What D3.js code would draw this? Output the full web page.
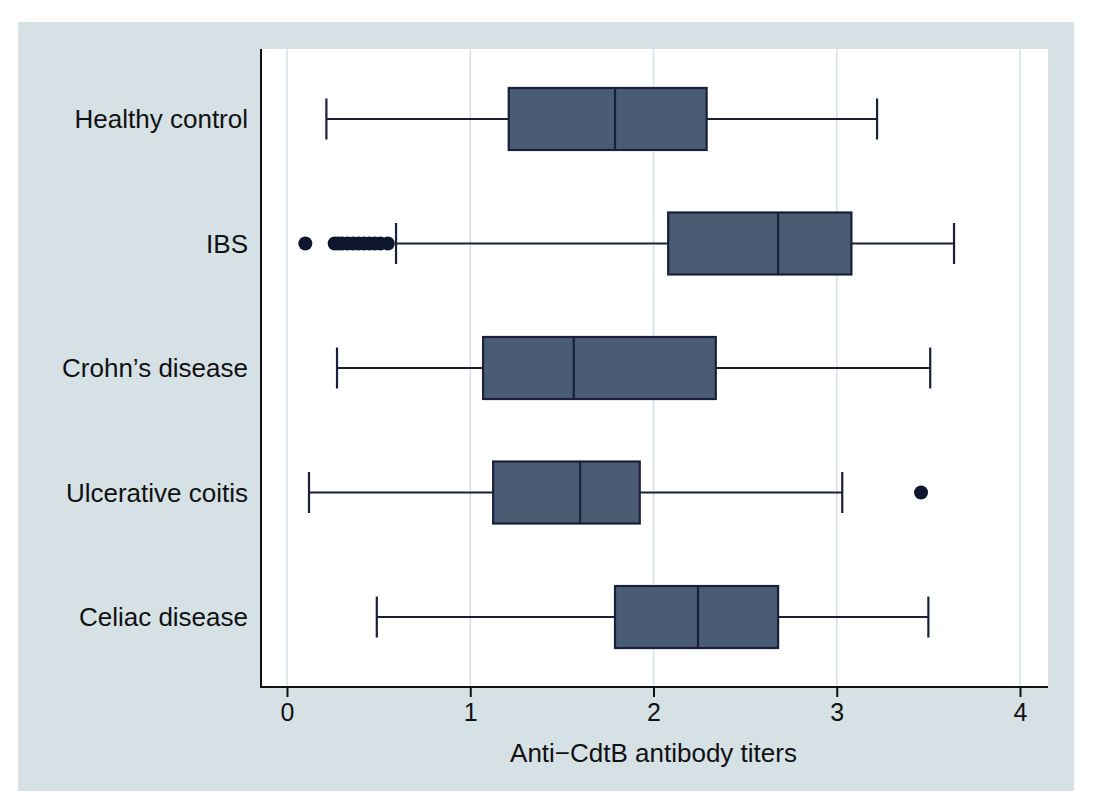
<!DOCTYPE html>
<html>
<head>
<meta charset="utf-8">
<script src="https://cdn.jsdelivr.net/npm/d3@7"></script>
<style>
  body { margin: 0; background: #fff; }
  text { font-family: "Liberation Sans", Arial, sans-serif; fill: #111; }
</style>
</head>
<body>
<div id="chart"></div>
<script>
// data
const categories = ["Healthy control", "IBS", "Crohn’s disease", "Ulcerative coitis", "Celiac disease"];
const whiskerLow = [0.215, 0.595, 0.273, 0.12, 0.49];
const q1 = [1.21, 2.08, 1.07, 1.125, 1.79];
const median = [1.79, 2.68, 1.565, 1.60, 2.243];
const q3 = [2.29, 3.08, 2.34, 1.925, 2.68];
const whiskerHigh = [3.22, 3.64, 3.51, 3.03, 3.50];
const outliers = [
  [],
  [0.10, 0.26, 0.28, 0.30, 0.33, 0.36, 0.39, 0.42, 0.45, 0.48, 0.51, 0.55],
  [],
  [3.46],
  []
];
const xTicks = [0, 1, 2, 3, 4];
const xTitle = "Anti−CdtB antibody titers";

const width = 1114;
const height = 806;
const plot = { left: 261, right: 1048, top: 49, bottom: 687 };

const boxes = categories.map((c, i) => ({
  cat: c, lo: whiskerLow[i], q1: q1[i], med: median[i], q3: q3[i], hi: whiskerHigh[i], out: outliers[i]
}));

const svg = d3.select("#chart")
  .append("svg")
  .attr("width", width)
  .attr("height", height);

// gray outer panel and white plot region
svg.append("rect")
  .attr("x", 18).attr("y", 22)
  .attr("width", 1074 - 18).attr("height", 791 - 22)
  .attr("fill", "#d6e1e6");
svg.append("rect")
  .attr("x", plot.left).attr("y", plot.top)
  .attr("width", plot.right - plot.left).attr("height", plot.bottom - plot.top)
  .attr("fill", "#fff");

const x = d3.scaleLinear()
  .domain([0, 4])
  .range([287, 1020]);

const y = d3.scalePoint()
  .domain(categories)
  .range([plot.top, plot.bottom])
  .padding(0.562);

// vertical gridlines
svg.append("g")
  .selectAll("line")
  .data(xTicks)
  .join("line")
  .attr("x1", d => x(d)).attr("x2", d => x(d))
  .attr("y1", plot.top).attr("y2", plot.bottom)
  .attr("stroke", "#d3e0e6")
  .attr("stroke-width", 1.5);

const boxH = 62;
const capH = 41;
const ink = "#19213a";

const g = svg.append("g")
  .selectAll("g")
  .data(boxes)
  .join("g")
  .attr("transform", d => `translate(0,${y(d.cat)})`);

// whiskers
g.append("line")
  .attr("x1", d => x(d.lo)).attr("x2", d => x(d.q1))
  .attr("y1", 0).attr("y2", 0)
  .attr("stroke", ink).attr("stroke-width", 2.2);
g.append("line")
  .attr("x1", d => x(d.q3)).attr("x2", d => x(d.hi))
  .attr("y1", 0).attr("y2", 0)
  .attr("stroke", ink).attr("stroke-width", 2.2);
// caps
g.append("line")
  .attr("x1", d => x(d.lo)).attr("x2", d => x(d.lo))
  .attr("y1", -capH / 2).attr("y2", capH / 2)
  .attr("stroke", ink).attr("stroke-width", 2.2);
g.append("line")
  .attr("x1", d => x(d.hi)).attr("x2", d => x(d.hi))
  .attr("y1", -capH / 2).attr("y2", capH / 2)
  .attr("stroke", ink).attr("stroke-width", 2.2);

// boxes
g.append("rect")
  .attr("x", d => x(d.q1))
  .attr("y", -boxH / 2)
  .attr("width", d => x(d.q3) - x(d.q1))
  .attr("height", boxH)
  .attr("fill", "#4a5b74")
  .attr("stroke", ink)
  .attr("stroke-width", 2.2);
g.append("line")
  .attr("x1", d => x(d.med)).attr("x2", d => x(d.med))
  .attr("y1", -boxH / 2).attr("y2", boxH / 2)
  .attr("stroke", ink).attr("stroke-width", 2.2);

// outside values
g.selectAll("circle")
  .data(d => d.out)
  .join("circle")
  .attr("cx", d => x(d))
  .attr("cy", 0)
  .attr("r", 7)
  .attr("fill", "#0f1630");

// axes
svg.append("line")
  .attr("x1", plot.left).attr("x2", plot.left)
  .attr("y1", plot.top).attr("y2", plot.bottom + 1)
  .attr("stroke", "#111").attr("stroke-width", 2);
svg.append("line")
  .attr("x1", plot.left).attr("x2", plot.right)
  .attr("y1", plot.bottom).attr("y2", plot.bottom)
  .attr("stroke", "#111").attr("stroke-width", 2);

const xAxis = svg.append("g")
  .attr("transform", `translate(0,${plot.bottom})`)
  .call(d3.axisBottom(x).tickValues(xTicks).tickFormat(d3.format("d")).tickSize(10).tickPadding(6));
xAxis.select(".domain").remove();
xAxis.selectAll(".tick line").attr("stroke", "#111").attr("stroke-width", 2);
xAxis.selectAll(".tick text")
  .attr("font-size", 25)
  .attr("fill", "#111")
  .style("font-family", "'Liberation Sans', Arial, sans-serif");

// category labels
svg.append("g")
  .selectAll("text")
  .data(categories)
  .join("text")
  .attr("x", 248)
  .attr("y", d => y(d))
  .attr("dy", "0.35em")
  .attr("text-anchor", "end")
  .attr("font-size", 26)
  .text(d => d);

svg.append("text")
  .attr("x", (x(0) + x(4)) / 2)
  .attr("y", 762)
  .attr("text-anchor", "middle")
  .attr("font-size", 26)
  .text(xTitle);
</script>
</body>
</html>
